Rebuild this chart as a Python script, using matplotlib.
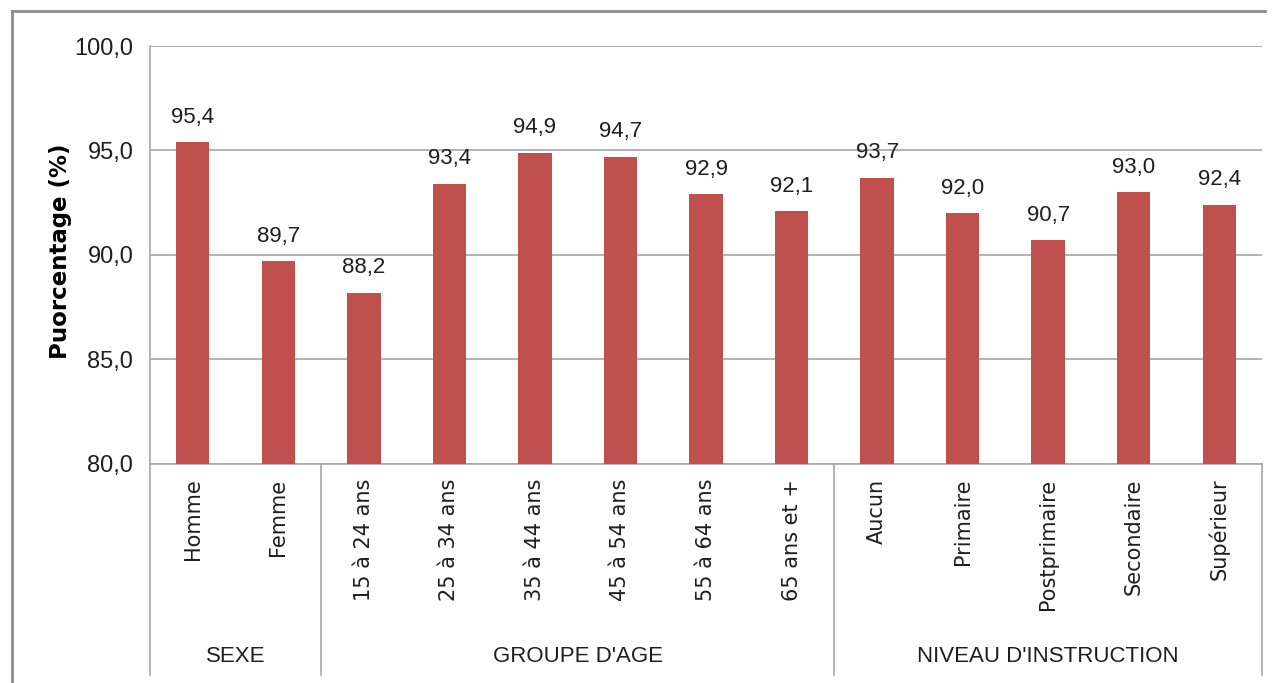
import numpy as np
import matplotlib
matplotlib.use('Agg')
import matplotlib.pyplot as plt
from matplotlib.lines import Line2D

# --- data ---
categories = ['Homme', 'Femme',
              '15 à 24 ans', '25 à 34 ans', '35 à 44 ans', '45 à 54 ans',
              '55 à 64 ans', '65 ans et +',
              'Aucun', 'Primaire', 'Postprimaire', 'Secondaire', 'Supérieur']
values = [95.4, 89.7,
          88.2, 93.4, 94.9, 94.7, 92.9, 92.1,
          93.7, 92.0, 90.7, 93.0, 92.4]
groups = ['SEXE', "GROUPE D'AGE", "NIVEAU D'INSTRUCTION"]
group_sizes = [2, 6, 5]
y_ticks = [80, 85, 90, 95, 100]

BAR = '#C0504D'
GRID = '#A6A6A6'
TXT = '#1E1E1E'
SANS = ['Liberation Sans', 'DejaVu Sans']

W, H = 1278, 683
fig = plt.figure(figsize=(W / 100, H / 100), dpi=100)
ax = fig.add_axes([150 / W, 1 - 464 / H, (1262 - 150) / W, (464 - 46) / H])

x = np.arange(len(categories))
ax.bar(x, values, width=0.39, color=BAR, zorder=3)

ax.set_xlim(-0.5, len(categories) - 0.5)
ax.set_ylim(80, 100)
ax.set_yticks(y_ticks)
ax.set_yticklabels([f'{v:.1f}'.replace('.', ',') for v in y_ticks],
                   family=SANS, fontsize=17, color=TXT)
ax.tick_params(axis='y', length=0, pad=12)
ax.set_xticks([])
ax.grid(axis='y', color=GRID, lw=1.2, zorder=0)
for s in ['top', 'right']:
    ax.spines[s].set_visible(False)
for s in ['left', 'bottom']:
    ax.spines[s].set_color(GRID)
    ax.spines[s].set_linewidth(1.2)

# value labels
for xi, v in zip(x, values):
    ax.annotate(f'{v:.1f}'.replace('.', ','), (xi, v), xytext=(0, 14),
                textcoords='offset points', ha='center', va='baseline',
                family=SANS, fontsize=16, color=TXT)

# category labels under the axis
trans = ax.get_xaxis_transform()
for xi, lab in zip(x, categories):
    ax.text(xi, -0.035, lab, transform=trans, rotation=90, ha='center', va='top',
            family='DejaVu Sans', fontsize=15, color=TXT)

# group separators and group names
bottom = (464 - 675) / 418
edges = np.concatenate([[0], np.cumsum(group_sizes)]) - 0.5
for e in edges:
    ax.add_line(Line2D([e, e], [0, bottom], transform=trans, color=GRID,
                       lw=1.2, clip_on=False))
for g, a, b in zip(groups, edges[:-1], edges[1:]):
    ax.text((a + b) / 2, (464 - 657) / 418, g, transform=trans,
            ha='center', va='center', family=SANS, fontsize=16, color=TXT)

fig.text(60 / W, 1 - 251 / H, 'Puorcentage (%)', rotation=90, ha='center',
         va='center', family='DejaVu Sans', fontweight='bold', fontsize=16.5)

# outer frame
fig.add_artist(Line2D([12 / W, 12 / W], [0, 1 - 11 / H], transform=fig.transFigure,
                      color='#8C8C8C', lw=2))
fig.add_artist(Line2D([12 / W, 1265 / W], [1 - 11 / H, 1 - 11 / H],
                      transform=fig.transFigure, color='#8C8C8C', lw=2))

fig.savefig('out.png', dpi=100)
